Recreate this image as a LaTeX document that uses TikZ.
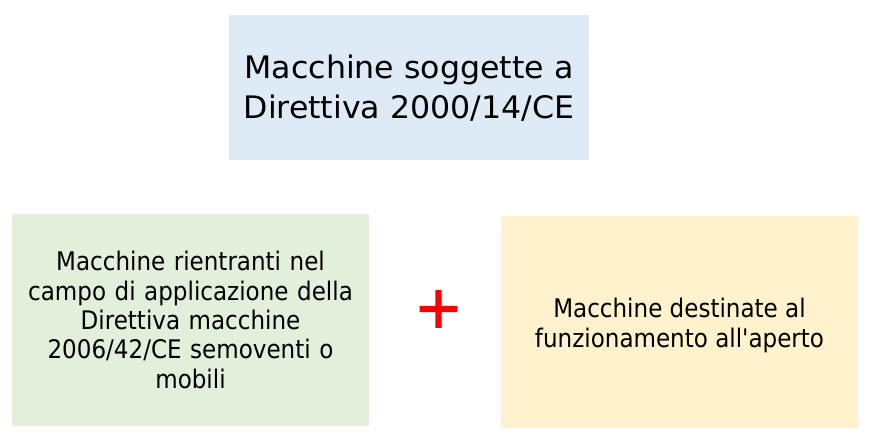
\documentclass[tikz,border=0pt]{standalone}
\usepackage{fontspec}
\setmainfont{DejaVu Sans}
\newfontfamily\bigfont[FakeStretch=1.02]{DejaVu Sans}
\newfontfamily\smallfont[FakeStretch=0.9]{DejaVu Sans}
\newfontfamily\plusfont[FakeBold=2.5]{DejaVu Sans}
\definecolor{topblue}{HTML}{DEEAF6}
\definecolor{leftgreen}{HTML}{E2EFDA}
\definecolor{rightyellow}{HTML}{FFF2CC}
\tikzset{
  box/.style={draw=none, inner sep=0pt, minimum width=357pt, minimum height=212pt, text width=350pt, align=center},
  bigtext/.style={font=\bigfont\fontsize{31pt}{40.5pt}\selectfont},
  smalltext/.style={font=\smallfont\fontsize{25.6pt}{29.3pt}\selectfont},
}
\begin{document}
\begin{tikzpicture}[x=1pt,y=-1pt]
\useasboundingbox[fill=white] (0,0) rectangle (874,441);
\node[box, fill=topblue, minimum width=360pt, minimum height=145pt] (top) at (409,87.5) {};
\node[bigtext, align=center, inner sep=0pt] (toptext) at (409,88) {Macchine soggette a\\Direttiva 2000/14/CE};
\node[box, smalltext, fill=leftgreen] (left) at (190.5,320) {Macchine rientranti nel\\campo di applicazione della\\Direttiva macchine\\2006/42/CE semoventi o\\mobili};
\node[box, fill=rightyellow] (right) at (679.5,322) {};
\node[smalltext, align=center, inner sep=0pt] (righttext) at (679.5,325.5) {Macchine destinate al\\funzionamento all'aperto};
\node[text=red, font=\plusfont\fontsize{58pt}{58pt}\selectfont, inner sep=0pt] (plus) at (438.5,309) {+};
\end{tikzpicture}
\end{document}
